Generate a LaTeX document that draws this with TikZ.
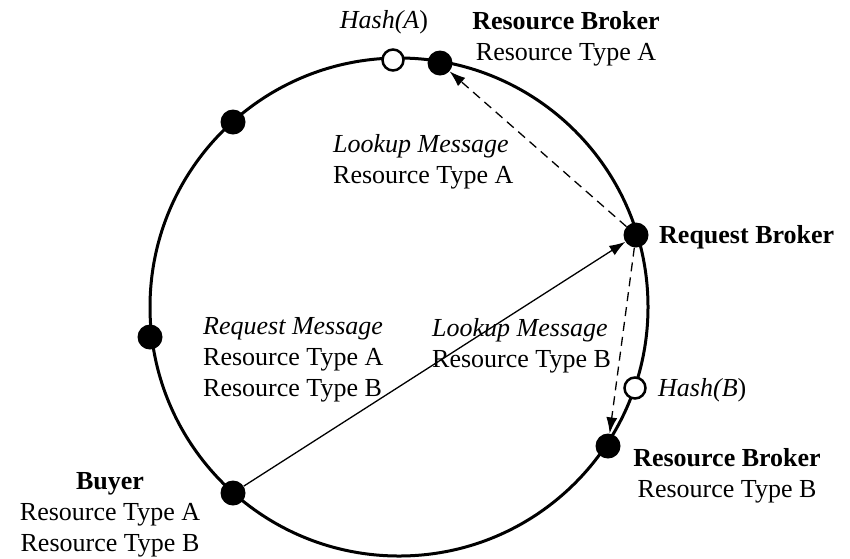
\documentclass[tikz,border=0pt]{standalone}
\usepackage{fontspec}
\setmainfont{Liberation Serif}
\usetikzlibrary{arrows.meta}
\begin{document}
\begin{tikzpicture}[x=1pt,y=-1pt,
  peer/.style={circle,fill=black,minimum size=25pt,inner sep=0pt},
  hashpt/.style={circle,draw=black,line width=2.5pt,fill=white,minimum size=21pt,inner sep=0pt},
  lbl/.style={inner sep=0pt,font=\fontsize{26}{31}\selectfont},
  msg/.style={line width=1.3pt,-{Latex[length=16pt,width=11pt]}},
  lookup/.style={msg,dash pattern=on 9pt off 6pt}]
\useasboundingbox (0,0) rectangle (850,558);
\draw[line width=3pt] (399,307) circle (249pt);
% points on the ring
\node[hashpt] (hashA) at (393,60) {};
\node[peer] (rbA) at (440,63) {};
\node[peer] (p1) at (233,122) {};
\node[peer] (p2) at (150,337) {};
\node[peer] (buyer) at (233,493) {};
\node[peer] (req) at (636,235) {};
\node[hashpt] (hashB) at (635,388) {};
\node[peer] (rbB) at (608,446) {};
% labels
\node[lbl] (thA) at (384,22) {\textit{Hash(A}{)}};
\node[lbl,align=center] (trbA) at (566,39) {\textbf{Resource Broker}\\Resource Type A};
\node[lbl,anchor=west] (treq) at (659,237) {\textbf{Request Broker}};
\node[lbl,anchor=west] (thB) at (658,390) {\textit{Hash(B}{)}};
\node[lbl,align=center] (trbB) at (727,476) {\textbf{Resource Broker}\\Resource Type B};
\node[lbl,align=center] (tbuyer) at (110,515) {\textbf{Buyer}\\Resource Type A\\Resource Type B};
\node[lbl,align=left,anchor=west] (tlookA) at (333,162) {\textit{Lookup Message}\\Resource Type A};
\node[lbl,align=left,anchor=west] (treqmsg) at (203,360) {\textit{Request Message}\\Resource Type A\\Resource Type B};
\node[lbl,align=left,anchor=west] (tlookB) at (432,346) {\textit{Lookup Message}\\Resource Type B};
% messages
\draw[msg] (buyer) -- (req);
\draw[lookup] (req) -- (rbA);
\draw[lookup] (req) -- (rbB);
\end{tikzpicture}
\end{document}
